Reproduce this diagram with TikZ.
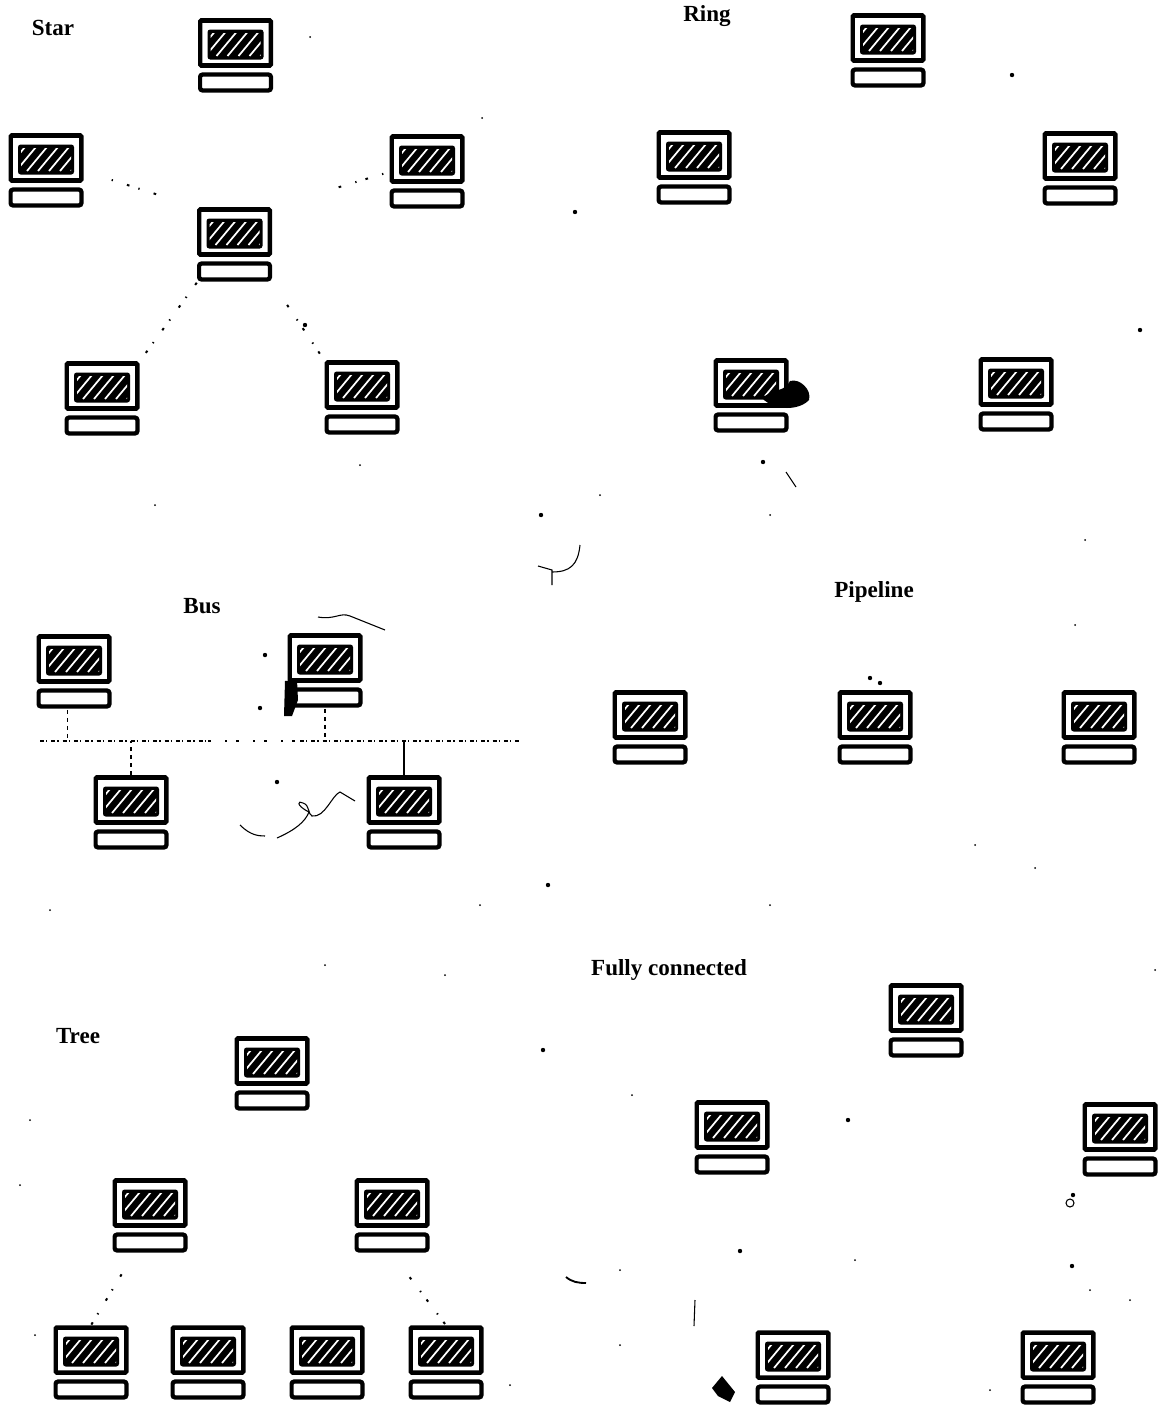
\documentclass[tikz,border=0pt]{standalone}
\usepackage{fontspec}
\setmainfont{Liberation Serif}
\usetikzlibrary{calc}
\tikzset{
 pcbox/.style={inner sep=0pt,minimum width=56.25pt,minimum height=56.25pt,
  path picture={
   \draw[line width=3.4pt,rounded corners=1pt] (-35.5,-35.5) rectangle (35.5,9.5);
   \draw[line width=3.2pt,rounded corners=2pt] (-35.5,18.5) rectangle (35.5,34.5);
   \fill[rounded corners=2pt] (-28,-26.5) rectangle (28,3.5);
   \begin{scope}
    \clip (-25,-23) rectangle (25,0);
    \foreach \h in {-41,-30,...,25}{
     \draw[white,line width=1.3pt] (\h,0) -- (\h+20,-24);}
   \end{scope}
  }},
 title/.style={inner sep=0pt,font=\bfseries\fontsize{17.3}{17.3}\selectfont},
 faint/.style={line width=1.5pt,dash pattern=on 2pt off 11pt on 1pt off 7pt},
 busline/.style={line width=1.5pt,dash pattern=on 3pt off 1.5pt on 1pt off 3pt},
 scratch/.style={line width=0.8pt}
}
\begin{document}
\begin{tikzpicture}[x=0.75pt,y=-0.75pt]
 \useasboundingbox (0,0) rectangle (1157,1410);
 % star
 \node[title] (startitle) at (53,28) {Star};
 \foreach \n/\x/\y in {startop/235.5/56,starleft/46/171,starright/427/172,starhub/234.5/245,starbl/102/399,starbr/362/398}{
  \node[pcbox] (\n) at (\x,\y) {};}
 \draw[faint,shorten <=32pt,shorten >=16pt] (starhub.north west) -- (starleft.east);
 \draw[faint,shorten <=52pt] (starhub.north east) -- (starright.west);
 \draw[faint] (starhub.south west) -- (starbl.north east);
 \draw[faint,shorten <=20pt] (starhub.south east) -- (starbr.north west);
 % ring
 \node[title] (ringtitle) at (707,16) {Ring};
 \foreach \n/\x/\y in {ringtop/888/51,ringleft/694/168,ringright/1080/169,ringbl/751/396,ringbr/1016/395}{
  \node[pcbox] (\n) at (\x,\y) {};}
 \fill (762,398) .. controls (775,388) and (785,392) .. (790,381) .. controls (800,378) and (812,390) .. (809,400)
  .. controls (800,410) and (775,412) .. (762,398);
 % bus
 \node[title] (bustitle) at (202,606) {Bus};
 \foreach \n/\x/\y in {busa/74/672,busb/325/671,busc/131/813,busd/404/813}{
  \node[pcbox] (\n) at (\x,\y) {};}
 \coordinate (busl) at (40,741);
 \coordinate (busgapl) at (208,741);
 \coordinate (busgapr) at (300,741);
 \coordinate (busr) at (520,741);
 \draw[busline] (busl) -- (busgapl);
 \draw[faint] (busgapl) -- (busgapr);
 \draw[busline] (busgapr) -- (busr);
 \draw[line width=1.2pt,dashed] (busa.260) -- (busa.260 |- busl);
 \draw[line width=1.2pt,dashed] (busb.south) -- (busb.south |- busl);
 \draw[line width=1.2pt,dashed] (busc.north) -- (busc.north |- busl);
 \draw[line width=1.2pt] (busd.north) -- (busd.north |- busl);
 \fill (285,681) -- (297,680) -- (298,700) -- (292,716) -- (284,716) -- cycle;
 \draw[scratch] (318,617) .. controls (335,620) and (340,612) .. (350,616) -- (385,630);
 \draw[scratch] (240,825) .. controls (250,835) and (258,836) .. (265,836);
 \draw[scratch] (277,838) .. controls (295,830) and (305,822) .. (309,812)
  .. controls (295,805) and (298,800) .. (303,803) .. controls (310,805) and (308,815) .. (312,816)
  .. controls (325,818) and (332,795) .. (340,792) -- (355,801);
 % pipeline
 \node[title] (pipetitle) at (874,592) {Pipeline};
 \foreach \n/\x/\y in {pipea/650/728,pipeb/875/728,pipec/1099/728}{
  \node[pcbox] (\n) at (\x,\y) {};}
 % tree
 \node[title] (treetitle) at (78,1036) {Tree};
 \foreach \n/\x/\y in {treeroot/272/1074,treeml/150/1216,treemr/392/1216,leafa/91/1363,leafb/208/1363,leafc/327/1363,leafd/446/1363}{
  \node[pcbox] (\n) at (\x,\y) {};}
 \draw[faint,shorten <=18pt] (treeml.247) -- (leafa.north);
 \draw[faint,shorten <=22pt] (treemr.south) -- (leafd.north);
 % fully connected
 \node[title] (fulltitle) at (669,970) {Fully connected};
 \foreach \n/\x/\y in {fulltop/926/1021,fullleft/732/1138,fullright/1120/1140,fullbl/793/1368,fullbr/1058/1368}{
  \node[pcbox] (\n) at (\x,\y) {};}
 % scan marks
 \draw[scratch] (538,566) -- (552,570) -- (552,585);
 \draw[scratch] (552,572) .. controls (570,572) and (578,565) .. (580,545);
 \draw[line width=1.4pt] (566,1277) .. controls (572,1282) and (578,1283) .. (586,1283);
 \draw[scratch] (695,1300) -- (694,1326);
 \draw[scratch] (786,472) -- (796,487);
 \draw[scratch] (1070,1203) circle (4);
 \fill (712,1388) -- (722,1376) -- (735,1392) -- (730,1402) -- (718,1396) -- cycle;
 \foreach \x/\y in {575/212,541/515,543/1050,848/1120,548/885,763/462,265/655,260/708,277/782,
   305/325,740/1251,1072/1266,1073/1195,1140/330,1012/75,870/678,880/683}{
  \fill (\x,\y) circle (2.2);}
 \foreach \x/\y in {310/37,482/118,155/505,360/465,600/495,770/515,1085/540,1075/625,
   975/845,1035/868,445/975,325/965,632/1095,1155/970,30/1120,20/1185,1130/1300,
   855/1260,620/1270,620/1345,990/1390,510/1385,35/1335,1090/1290,770/905,480/905,50/910}{
  \fill (\x,\y) circle (1);}
\end{tikzpicture}
\end{document}
